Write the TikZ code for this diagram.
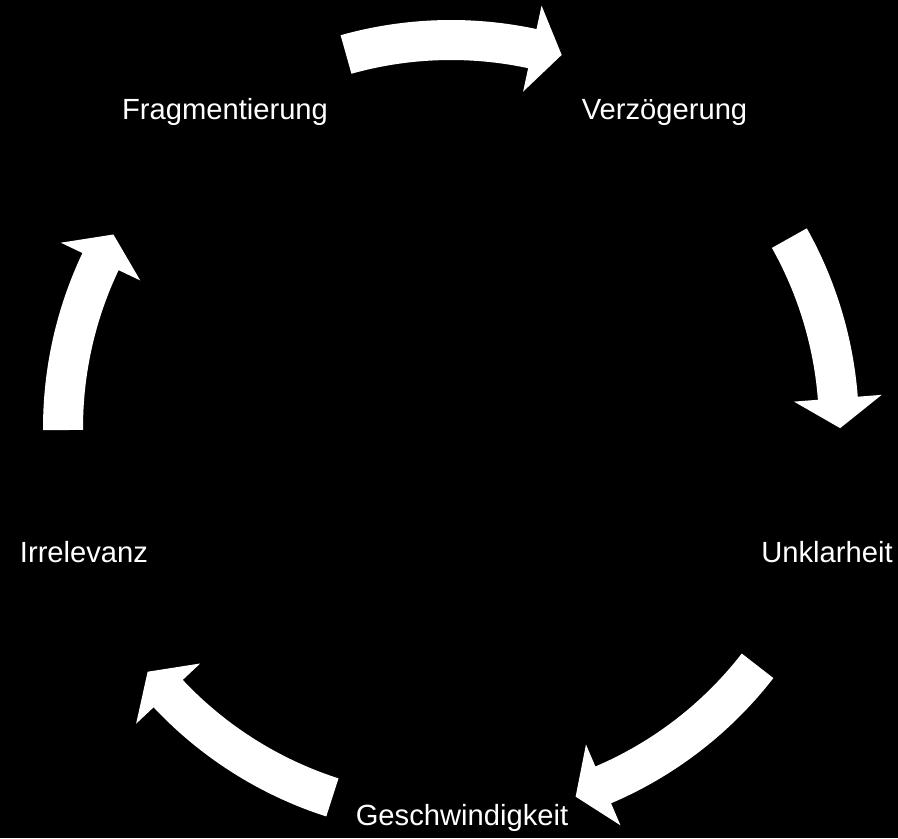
\documentclass[tikz,border=0pt]{standalone}
\usepackage{fontspec}
\setmainfont{Liberation Sans}
\usetikzlibrary{calc}

\tikzset{
  lbl/.style={text=white,font=\fontsize{16.6}{20}\selectfont,inner sep=0pt},
  cycarrow/.style={fill=white}
}

\begin{document}
\begin{tikzpicture}
\fill[black] (0,0) rectangle (17.96,16.76);
\coordinate (c) at (9.02,8.20);

\node[lbl] (frag) at (4.50,14.52) {Fragmentierung};
\node[lbl] (verz) at (13.29,14.52) {Verzögerung};
\node[lbl] (unkl) at (16.54,5.72) {Unklarheit};
\node[lbl] (gesch) at (9.24,0.40) {Geschwindigkeit};
\node[lbl] (irr) at (1.68,5.72) {Irrelevanz};

% tail angle / head base angle
\foreach \a/\b in {105.7/77.9, 29.3/4.4, -37.8/-66.9, -107.8/-136.8, 180.3/154.6}{
  \fill[cycarrow] ($(c)+(\a:7.36)$) arc[start angle=\a, end angle=\b, radius=7.36]
    -- ($(c)+(\b:6.88)$) -- ($(c)+(\b:7.76)+(\b-90:0.6)$) -- ($(c)+(\b:8.64)$)
    -- ($(c)+(\b:8.16)$) arc[start angle=\b, end angle=\a, radius=8.16] -- cycle;
}
\end{tikzpicture}
\end{document}
